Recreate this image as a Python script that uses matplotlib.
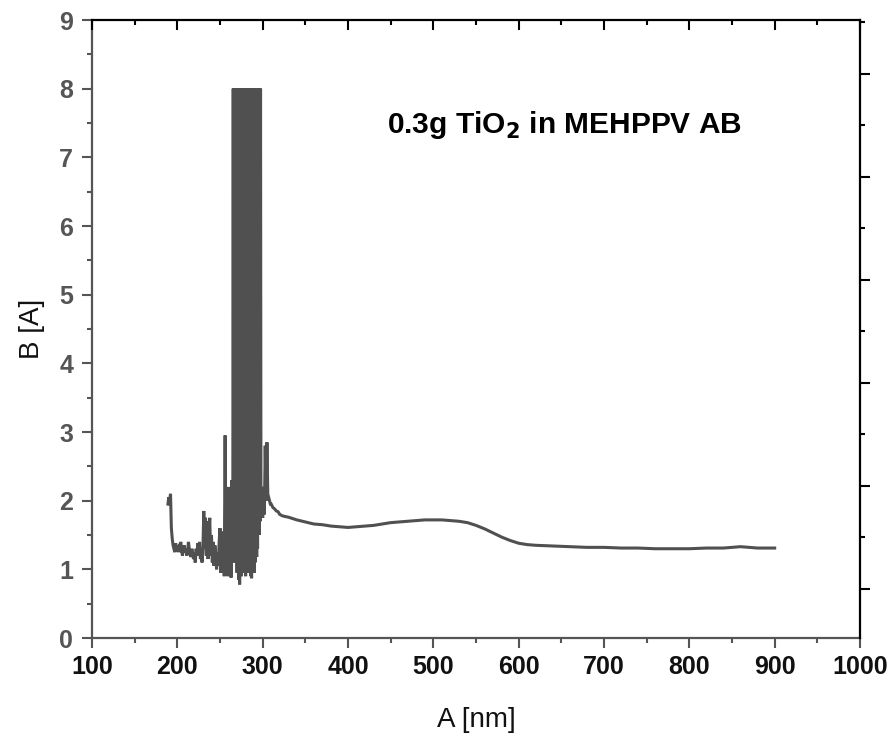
import numpy as np
import matplotlib
matplotlib.use("Agg")
import matplotlib.pyplot as plt
from matplotlib.ticker import MultipleLocator, NullFormatter

plt.rcParams["font.family"] = ["Liberation Sans", "DejaVu Sans"]

# noisy start of the spectrum, 1 nm steps from 189 to 264 nm
noisy_wl = np.arange(189, 265)
noisy_b = [
    1.95, 2.05, 2.00, 2.10, 1.60, 1.45, 1.35, 1.30, 1.25, 1.38,
    1.30, 1.35, 1.25, 1.32, 1.30, 1.40, 1.28, 1.20, 1.30, 1.35,
    1.25, 1.30, 1.20, 1.25, 1.40, 1.30, 1.22, 1.18, 1.30, 1.22,
    1.15, 1.25, 1.10, 1.30, 1.20, 1.38, 1.25, 1.40, 1.15, 1.22,
    1.10, 1.30, 1.85, 1.30, 1.75, 1.20, 1.70, 1.15, 1.55, 1.75,
    1.20, 1.50, 1.10, 1.40, 1.05, 1.35, 1.20, 1.00, 1.25, 1.05,
    1.40, 1.60, 0.95, 1.55, 1.00, 1.20, 0.90, 2.95, 1.00, 2.20,
    0.90, 2.10, 1.00, 2.20, 0.88, 2.30,
]

# saturated region 265-297 nm: low reading at each nm, high reading half a nm later
dense_wl = np.arange(265, 298)
dense_low = [
    1.60, 1.30, 1.10, 1.50, 1.20, 0.95, 1.20, 0.85, 0.78, 1.00,
    0.90, 1.15, 0.95, 1.20, 1.05, 0.90, 1.10, 1.00, 1.30, 0.95,
    1.10, 0.90, 0.87, 1.00, 1.20, 0.95, 1.10, 1.40, 1.18, 1.30,
    1.60, 1.50, 1.70,
]
dense_high = [
    8.00, 8.00, 8.00, 7.95, 8.00, 8.00, 8.00, 8.00, 8.00, 8.00,
    8.00, 8.00, 8.00, 8.00, 8.00, 8.00, 8.00, 8.00, 8.00, 8.00,
    8.00, 8.00, 8.00, 8.00, 7.95, 8.00, 8.00, 8.00, 8.00, 8.00,
    8.00, 8.00, 8.00,
]

# tail of the spectrum
tail_wl = [298, 299, 300, 301, 302, 303, 304, 305, 306, 307, 308, 309, 310,
           312, 314, 316, 318, 320, 323, 326, 330, 335, 340, 350, 360, 370,
           380, 390, 400, 410, 420, 430, 440, 450, 460, 470, 480, 490, 500,
           510, 520, 530, 540, 550, 560, 570, 580, 590, 600, 610, 620, 640,
           660, 680, 700, 720, 740, 760, 780, 800, 820, 840, 850, 860, 870,
           880, 890, 900]
tail_b = [1.75, 2.10, 1.75, 2.20, 1.80, 2.80, 2.00, 2.85, 2.10, 2.05, 2.00,
          1.95, 1.95, 1.90, 1.88, 1.85, 1.84, 1.80, 1.78, 1.77, 1.76, 1.74,
          1.72, 1.69, 1.66, 1.65, 1.63, 1.62, 1.61, 1.62, 1.63, 1.64, 1.66,
          1.68, 1.69, 1.70, 1.71, 1.72, 1.72, 1.72, 1.71, 1.70, 1.68, 1.64,
          1.59, 1.53, 1.47, 1.42, 1.38, 1.36, 1.35, 1.34, 1.33, 1.32, 1.32,
          1.31, 1.31, 1.30, 1.30, 1.30, 1.31, 1.31, 1.32, 1.33, 1.32, 1.31,
          1.31, 1.31]

dense_x = np.column_stack([dense_wl, dense_wl + 0.5]).ravel()
dense_y = np.column_stack([dense_low, dense_high]).ravel()

wl = np.concatenate([noisy_wl, dense_x, tail_wl])
b = np.concatenate([noisy_b, dense_y, tail_b])

LINE_COLOR = "#505050"
GRAY = "#555555"

fig = plt.figure(figsize=(8.91, 7.40), dpi=100)
ax = fig.add_axes([92 / 891, 1 - 638 / 740, (860 - 92) / 891, (638 - 20) / 740])

ax.plot(wl, b, color=LINE_COLOR, lw=2.2, solid_joinstyle="miter")

ax.set_xlim(100, 1000)
ax.set_ylim(0, 9)
ax.xaxis.set_major_locator(MultipleLocator(100))
ax.xaxis.set_minor_locator(MultipleLocator(50))
ax.yaxis.set_major_locator(MultipleLocator(1))
ax.yaxis.set_minor_locator(MultipleLocator(0.5))

for side in ("top", "right"):
    ax.spines[side].set_visible(False)
for side in ("left", "bottom"):
    ax.spines[side].set_color(GRAY)
    ax.spines[side].set_linewidth(1.6)

ax.tick_params(which="major", direction="out", length=7.5, width=1.5, color=GRAY)
ax.tick_params(which="minor", direction="out", length=3.5, width=1.5, color=GRAY)
ax.tick_params(axis="x", labelsize=18, labelcolor="#111111", pad=5)
ax.tick_params(axis="y", labelsize=18, labelcolor=GRAY, pad=6)
for lab in ax.get_xticklabels() + ax.get_yticklabels():
    lab.set_fontweight("bold")

ax.set_xlabel("A [nm]", fontsize=20, color="#111111", labelpad=20)
ax.set_ylabel("B [A]", fontsize=20, color="#111111", labelpad=10)

# top axis: inward ticks, no labels
ax_top = ax.twiny()
ax_top.set_xlim(100, 1000)
ax_top.xaxis.set_major_locator(MultipleLocator(100))
ax_top.xaxis.set_minor_locator(MultipleLocator(50))
ax_top.xaxis.set_major_formatter(NullFormatter())
ax_top.tick_params(which="major", direction="in", length=7.5, width=1.5, color="black")
ax_top.tick_params(which="minor", direction="in", length=3.5, width=1.5, color="black")
for side in ("left", "bottom", "right"):
    ax_top.spines[side].set_visible(False)
ax_top.spines["top"].set_color("black")
ax_top.spines["top"].set_linewidth(1.6)

# right axis: outward ticks on its own scale, no labels
ax_right = ax.twinx()
ax_right.set_ylim(-0.476, 5.524)
ax_right.yaxis.set_major_locator(MultipleLocator(1))
ax_right.yaxis.set_minor_locator(MultipleLocator(0.5))
ax_right.yaxis.set_major_formatter(NullFormatter())
ax_right.tick_params(which="major", direction="out", length=7.5, width=1.5, color="black")
ax_right.tick_params(which="minor", direction="out", length=3.5, width=1.5, color="black")
for side in ("left", "bottom", "top"):
    ax_right.spines[side].set_visible(False)
ax_right.spines["right"].set_color("black")
ax_right.spines["right"].set_linewidth(1.6)

ax.text(446, 7.35, r"0.3g TiO$_\mathbf{2}$ in MEHPPV AB", fontsize=21.5,
        fontweight="bold", color="black", ha="left", va="baseline")

fig.savefig("out.png", dpi=100)
